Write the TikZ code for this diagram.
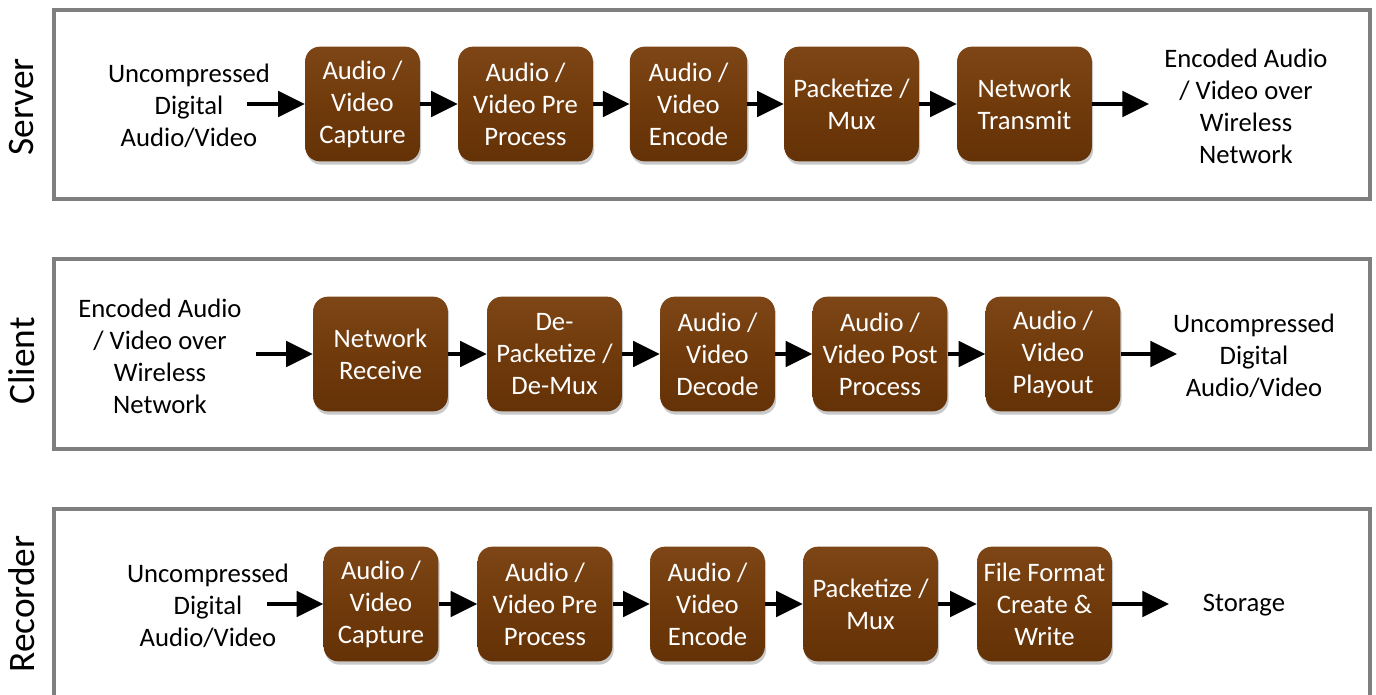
\documentclass[tikz,border=0pt]{standalone}
\usepackage{fontspec}
\setmainfont{Carlito}
\usetikzlibrary{arrows.meta,shadows}
\definecolor{boxmid}{RGB}{112,58,11}
\definecolor{boxtop}{RGB}{126,70,22}
\definecolor{boxbot}{RGB}{100,50,7}
\definecolor{panelgray}{RGB}{127,127,127}
\tikzset{
  panel/.style={draw=panelgray, line width=3pt, fill=white},
  stage/.style={rounded corners=11pt, top color=boxtop, bottom color=boxbot, middle color=boxmid,
    draw=none, text=white, align=center, font=\fontsize{20}{24}\selectfont,
    minimum height=86pt, inner sep=0pt,
    drop shadow={shadow xshift=1pt, shadow yshift=-2.5pt, opacity=0.35, fill=black!60}},
  lbl/.style={align=center, font=\fontsize{20}{24}\selectfont, text=black},
  rowlbl/.style={rotate=90, font=\fontsize{28}{32}\selectfont, text=black},
  flow/.style={line width=3pt, -{Triangle[length=20pt, width=19pt]}},
}
\begin{document}
\begin{tikzpicture}[x=0.75pt, y=-0.75pt]
\useasboundingbox (0,0) rectangle (1376,695);
% panels
\draw[panel] (54,10) rectangle (1370,199);
\draw[panel] (54,259) rectangle (1370,449);
\draw[panel] (54,509) rectangle (1370,720);
% row labels
\node[rowlbl] (lserver) at (22,107) {Server};
\node[rowlbl] (lclient) at (22,361) {Client};
\node[rowlbl] (lrecorder) at (22,604) {Recorder};

% ---------- Server row ----------
\node[lbl] (sin) at (189,106) {Uncompressed\\Digital\\Audio/Video};
\coordinate (sinc) at (247,104);
\node[stage, minimum width=86pt] (s1) at (362.5,104) {Audio /\\Video\\Capture};
\node[stage, minimum width=101pt] (s2) at (525.5,104) {Audio /\\Video Pre\\Process};
\node[stage, minimum width=88pt] (s3) at (688.5,104) {Audio /\\Video\\Encode};
\node[stage, minimum width=101pt] (s4) at (851.5,104) {Packetize /\\Mux};
\node[stage, minimum width=101pt] (s5) at (1024.5,104) {Network\\Transmit};
\coordinate (soutc) at (1149,104);
\node[lbl] (sout) at (1246,106) {Encoded Audio\\/ Video over\\Wireless\\Network};
\draw[flow] (sinc) -- (s1);
\draw[flow] (s1) -- (s2);
\draw[flow] (s2) -- (s3);
\draw[flow] (s3) -- (s4);
\draw[flow] (s4) -- (s5);
\draw[flow] (s5) -- (soutc);

% ---------- Client row ----------
\node[lbl] (cin) at (160,356) {Encoded Audio\\/ Video over\\Wireless\\Network};
\coordinate (cinc) at (256,354);
\node[stage, minimum width=101pt] (c1) at (380.5,354) {Network\\Receive};
\node[stage, minimum width=101pt] (c2) at (554.5,354) {De-\\Packetize /\\De-Mux};
\node[stage, minimum width=86pt] (c3) at (717.5,354) {Audio /\\Video\\Decode};
\node[stage, minimum width=101pt] (c4) at (880,354) {Audio /\\Video Post\\Process};
\node[stage, minimum width=101pt] (c5) at (1053,354) {Audio /\\Video\\Playout};
\coordinate (coutc) at (1177,354);
\node[lbl] (cout) at (1254,356) {Uncompressed\\Digital\\Audio/Video};
\draw[flow] (cinc) -- (c1);
\draw[flow] (c1) -- (c2);
\draw[flow] (c2) -- (c3);
\draw[flow] (c3) -- (c4);
\draw[flow] (c4) -- (c5);
\draw[flow] (c5) -- (coutc);

% ---------- Recorder row ----------
\node[lbl] (rin) at (208,606) {Uncompressed\\Digital\\Audio/Video};
\coordinate (rinc) at (267,604);
\node[stage, minimum width=86pt] (r1) at (381,604) {Audio /\\Video\\Capture};
\node[stage, minimum width=101pt] (r2) at (545,604) {Audio /\\Video Pre\\Process};
\node[stage, minimum width=86pt] (r3) at (707.5,604) {Audio /\\Video\\Encode};
\node[stage, minimum width=101pt] (r4) at (870.5,604) {Packetize /\\Mux};
\node[stage, minimum width=101pt] (r5) at (1044.5,604) {File Format\\Create \&\\Write};
\coordinate (routc) at (1169,604);
\node[lbl] (rout) at (1244,605) {Storage};
\draw[flow] (rinc) -- (r1);
\draw[flow] (r1) -- (r2);
\draw[flow] (r2) -- (r3);
\draw[flow] (r3) -- (r4);
\draw[flow] (r4) -- (r5);
\draw[flow] (r5) -- (routc);
\end{tikzpicture}
\end{document}
